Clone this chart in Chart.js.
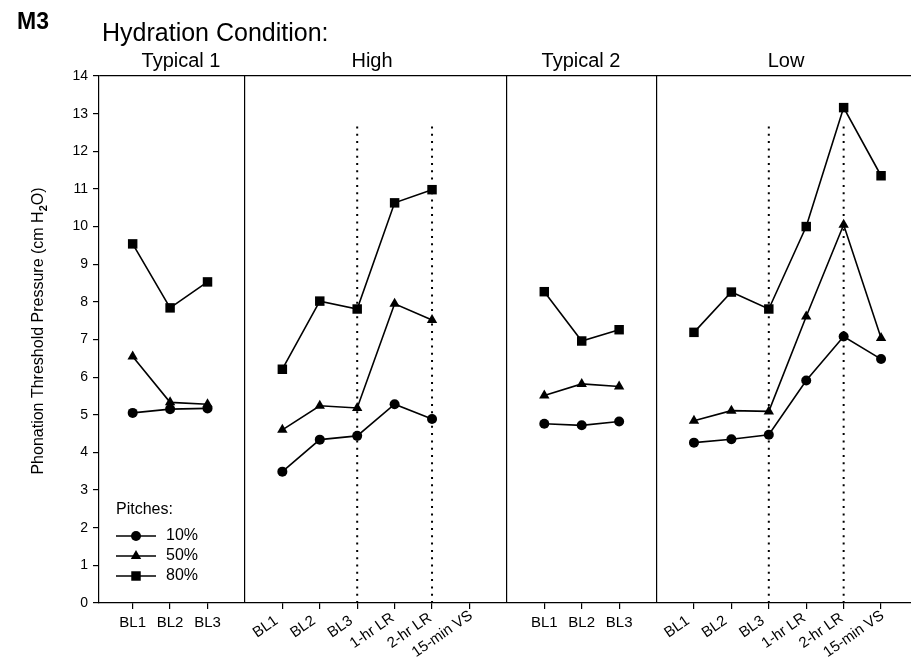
<!DOCTYPE html>
<html>
<head>
<meta charset="utf-8">
<script src="https://cdn.jsdelivr.net/npm/chart.js@4.4.1/dist/chart.umd.min.js"></script>
<style>
  body { margin: 0; background: #fff; overflow: hidden; }
  canvas { display: block; }
</style>
</head>
<body>
<canvas id="ptpChart" width="911" height="669"></canvas>
<script>
// data (M3, phonation threshold pressure in cm H2O)
const conditions = ["Typical 1", "High", "Typical 2", "Low"];
const typicalSessions = ["BL1", "BL2", "BL3"];
const hydrationSessions = ["BL1", "BL2", "BL3", "1-hr LR", "2-hr LR", "15-min VS"];
const pitchNames = ["10%", "50%", "80%"];

const pitch10 = [5.05, 5.15, 5.17, 3.49, 4.34, 4.44, 5.28, 4.89, null, 4.76, 4.72, 4.82, 4.26, 4.35, 4.47, 5.91, 7.08, 6.48];
const pitch50 = [6.55, 5.33, 5.28, 4.60, 5.24, 5.18, 7.95, 7.52, null, 5.51, 5.82, 5.75, 4.84, 5.11, 5.09, 7.61, 10.05, 7.04];
const pitch80 = [9.54, 7.84, 8.53, 6.21, 8.02, 7.81, 10.63, 10.98, null, 8.27, 6.96, 7.26, 7.19, 8.26, 7.81, 10.00, 13.16, 11.35];

const dottedSessions = ["BL3", "2-hr LR"];
const dottedTop = 12.72;
const yMin = 0;
const yMax = 14;

// lay the sessions out on slots, one empty slot between conditions
const cats = [];
const separators = [];
const allSlots = [];
let slot = 0;
conditions.forEach((cond, i) => {
    if (i > 0) {
        slot++;
        separators.push(slot);
        allSlots.push({ slot: slot, idx: -1 });
    }
    const list = i % 2 === 0 ? typicalSessions : hydrationSessions;
    list.forEach(s => {
        slot++;
        cats.push({ slot: slot, label: s, rotated: i % 2 === 1, cond: cond });
        allSlots.push({ slot: slot, idx: cats.length - 1 });
    });
});

function seriesPoints(values) {
    return allSlots.map(s => ({ x: s.slot, y: s.idx < 0 ? null : values[s.idx] }));
}

const tickSlots = cats.map(c => c.slot).concat(separators).sort((a, b) => a - b);

const datasets = [];
cats.filter(c => c.rotated && dottedSessions.includes(c.label)).forEach(c => {
    datasets.push({
        data: [{ x: c.slot, y: 0 }, { x: c.slot, y: dottedTop }],
        borderColor: "#000",
        borderWidth: 2,
        borderDash: [2, 5.3],
        pointRadius: 0,
        order: 5
    });
});

const styles = ["circle", "triangle", "rect"];
const radii = [5, 6, 6.7];
[pitch10, pitch50, pitch80].forEach((vals, i) => {
    datasets.push({
        label: pitchNames[i],
        data: seriesPoints(vals),
        borderColor: "#000",
        backgroundColor: "#000",
        borderWidth: 1.6,
        pointStyle: styles[i],
        pointRadius: radii[i],
        pointBorderWidth: 0,
        spanGaps: false,
        tension: 0,
        order: 1
    });
});

const FONT = "'Liberation Sans', Arial, sans-serif";

function drawMarker(ctx, style, x, y, r) {
    ctx.beginPath();
    if (style === "circle") {
        ctx.arc(x, y, r, 0, Math.PI * 2);
    } else if (style === "triangle") {
        ctx.moveTo(x, y - r);
        ctx.lineTo(x + r * 0.866, y + r / 2);
        ctx.lineTo(x - r * 0.866, y + r / 2);
        ctx.closePath();
    } else {
        const h = r * Math.SQRT1_2;
        ctx.rect(x - h, y - h, 2 * h, 2 * h);
    }
    ctx.fill();
}

const textPlugin = {
    id: "textPlugin",
    afterDraw(chart) {
        const ctx = chart.ctx;
        const xs = chart.scales.x;
        const ys = chart.scales.y;
        ctx.save();
        ctx.fillStyle = "#000";
        ctx.strokeStyle = "#000";

        // titles
        ctx.textBaseline = "alphabetic";
        ctx.textAlign = "left";
        ctx.font = "bold 23px " + FONT;
        ctx.fillText("M3", 17, 29);
        ctx.font = "25px " + FONT;
        ctx.fillText("Hydration Condition:", 102, 41);

        // condition headers
        ctx.font = "20px " + FONT;
        ctx.textAlign = "center";
        const headX = [181, 372, 581, 786];
        conditions.forEach((c, i) => ctx.fillText(c, headX[i], 67));

        // y axis title with subscript
        ctx.save();
        ctx.translate(43, 331);
        ctx.rotate(-Math.PI / 2);
        ctx.textAlign = "left";
        const p1 = "Phonation Threshold Pressure (cm H";
        const p2 = "2";
        const p3 = "O)";
        ctx.font = "16px " + FONT;
        const w1 = ctx.measureText(p1).width;
        const w3 = ctx.measureText(p3).width;
        ctx.font = "bold 11px " + FONT;
        const w2 = ctx.measureText(p2).width;
        let x0 = -(w1 + w2 + w3) / 2;
        ctx.font = "16px " + FONT;
        ctx.fillText(p1, x0, 0);
        ctx.font = "bold 11px " + FONT;
        ctx.fillText(p2, x0 + w1, 4);
        ctx.font = "16px " + FONT;
        ctx.fillText(p3, x0 + w1 + w2, 0);
        ctx.restore();

        // x tick labels
        ctx.font = "15px " + FONT;
        cats.forEach(c => {
            const px = xs.getPixelForValue(c.slot);
            if (c.rotated) {
                const w = ctx.measureText(c.label).width;
                ctx.save();
                ctx.translate(px - 10.5, ys.bottom + 19.5);
                ctx.rotate(-35 * Math.PI / 180);
                ctx.textAlign = "left";
                ctx.textBaseline = "middle";
                ctx.fillText(c.label, -0.79 * w, 0);
                ctx.restore();
            } else {
                ctx.textAlign = "center";
                ctx.textBaseline = "middle";
                ctx.fillText(c.label, px, ys.bottom + 20);
            }
        });

        // legend
        ctx.textAlign = "left";
        ctx.textBaseline = "middle";
        ctx.font = "16px " + FONT;
        ctx.fillText("Pitches:", 116, 510);
        pitchNames.forEach((n, i) => {
            const ly = 536 + i * 20;
            ctx.lineWidth = 1.6;
            ctx.beginPath();
            ctx.moveTo(116, ly);
            ctx.lineTo(156, ly);
            ctx.stroke();
            drawMarker(ctx, styles[i], 136, ly, radii[i]);
            ctx.fillText(n, 166, ly);
        });
        ctx.restore();
    }
};

new Chart(document.getElementById("ptpChart"), {
    type: "line",
    data: { datasets: datasets },
    options: {
        responsive: false,
        animation: false,
        layout: { autoPadding: false, padding: { top: 76, right: 0, bottom: 0, left: 0 } },
        plugins: {
            legend: { display: false },
            tooltip: { enabled: false }
        },
        scales: {
            x: {
                type: "linear",
                min: 0.1,
                max: 21.8,
                afterFit: s => {
                    s.height = 66;
                    s.paddingLeft = 0;
                    s.paddingRight = 0;
                },
                afterBuildTicks: s => { s.ticks = tickSlots.map(v => ({ value: v })); },
                ticks: { display: false },
                grid: {
                    drawOnChartArea: true,
                    drawTicks: true,
                    tickLength: 6,
                    lineWidth: 1.2,
                    color: c => separators.includes(c.tick && c.tick.value) ? "#000" : "rgba(0,0,0,0)",
                    tickColor: c => separators.includes(c.tick && c.tick.value) ? "rgba(0,0,0,0)" : "#000"
                },
                border: { display: true, color: "#000", width: 1.2 }
            },
            y: {
                min: yMin,
                max: yMax,
                afterFit: s => {
                    s.width = 99;
                    s.paddingTop = 0;
                    s.paddingBottom = 0;
                },
                ticks: {
                    stepSize: 1,
                    color: "#000",
                    padding: 5,
                    font: { family: FONT, size: 14 }
                },
                grid: {
                    drawOnChartArea: true,
                    tickLength: 6,
                    lineWidth: 1.2,
                    color: c => (c.tick && c.tick.value === yMax) ? "#000" : "rgba(0,0,0,0)",
                    tickColor: "#000"
                },
                border: { display: true, color: "#000", width: 1.2 }
            }
        }
    },
    plugins: [textPlugin]
});
</script>
</body>
</html>
